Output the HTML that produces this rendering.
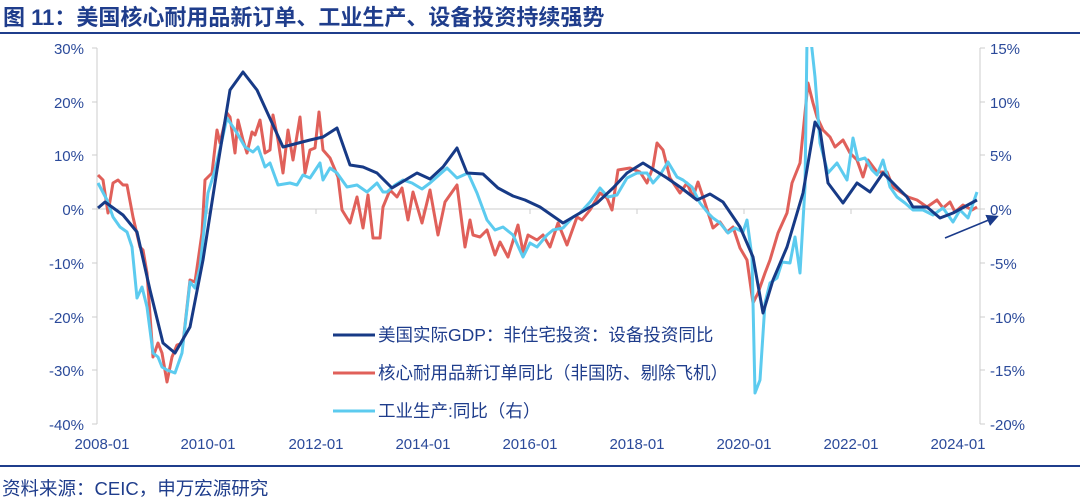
<!DOCTYPE html>
<html><head><meta charset="utf-8"><style>
body{margin:0;background:#fff;width:1080px;height:498px;overflow:hidden;font-family:"Liberation Sans","Noto Sans CJK SC",sans-serif;}
</style></head><body>
<svg width="1080" height="498" xmlns="http://www.w3.org/2000/svg" font-family="Liberation Sans, Noto Sans CJK SC, sans-serif">
<defs><clipPath id="c"><rect x="97" y="47" width="885" height="380"/></clipPath>
<marker id="ah" markerWidth="8" markerHeight="8" refX="6" refY="4" orient="auto"><path d="M0,0 L8,4 L0,8 z" fill="#1a3a8a"/></marker></defs>
<text x="3" y="25" font-size="22" font-weight="bold" fill="#1f3d8c">图 11：美国核心耐用品新订单、工业生产、设备投资持续强势</text>
<rect x="0" y="32" width="1080" height="2" fill="#1f3d8c"/>
<rect x="0" y="465" width="1080" height="2" fill="#1f3d8c"/>
<text x="2" y="495" font-size="18.5" fill="#1f3d8c">资料来源：CEIC，申万宏源研究</text>
<g stroke="#ccc" stroke-width="1" fill="none">
<line x1="97" y1="48" x2="97" y2="424"/><line x1="980" y1="48" x2="980" y2="424"/>
<line x1="97" y1="209" x2="980" y2="209"/>
<path d="M92,48H97M92,102H97M92,155H97M92,209H97M92,263H97M92,317H97M92,370H97M92,424H97M980,48H985M980,102H985M980,155H985M980,209H985M980,263H985M980,317H985M980,370H985M980,424H985M208,209V214M316,209V214M423,209V214M530,209V214M637,209V214M744,209V214M851,209V214M958,209V214"/>
</g>
<g font-size="15" fill="#2b4a9a" text-anchor="end">
<text x="84" y="54">30%</text><text x="84" y="108">20%</text><text x="84" y="161">10%</text><text x="84" y="215">0%</text><text x="84" y="269">-10%</text><text x="84" y="323">-20%</text><text x="84" y="376">-30%</text><text x="84" y="430">-40%</text>
</g>
<g font-size="15" fill="#2b4a9a">
<text x="990" y="54">15%</text><text x="990" y="108">10%</text><text x="990" y="161">5%</text><text x="990" y="215">0%</text><text x="990" y="269">-5%</text><text x="990" y="323">-10%</text><text x="990" y="376">-15%</text><text x="990" y="430">-20%</text>
</g>
<g font-size="15" fill="#2b4a9a" text-anchor="middle">
<text x="102" y="449">2008-01</text><text x="208" y="449">2010-01</text><text x="316" y="449">2012-01</text><text x="423" y="449">2014-01</text><text x="530" y="449">2016-01</text><text x="637" y="449">2018-01</text><text x="744" y="449">2020-01</text><text x="851" y="449">2022-01</text><text x="958" y="449">2024-01</text>
</g>
<g clip-path="url(#c)" fill="none" stroke-width="3" stroke-linejoin="round">
<polyline stroke="#e0605a" points="98,175 103,180 108,213 113,183 118,180 123,185 127,185 133,217 140,247 143,250 147,273 153,357 158,343 162,353 167,382 172,357 177,345 183,343 190,280 195,282 202,233 205,180 212,173 217,130 220,143 227,113 230,117 235,153 238,120 243,140 247,153 252,132 255,135 260,120 265,153 270,150 273,115 278,140 283,173 288,130 293,160 300,117 305,173 310,150 315,148 319,112 323,150 330,158 338,177 342,210 350,223 357,197 363,228 368,195 373,238 380,238 383,207 390,190 397,197 402,188 408,220 413,192 422,223 430,190 438,235 445,202 457,185 465,247 470,220 473,235 480,237 487,230 495,255 500,242 508,257 518,225 523,252 528,235 537,240 543,235 550,247 558,223 567,245 577,217 582,220 590,210 600,193 607,198 612,210 618,170 630,168 640,172 647,183 653,167 657,143 663,150 670,178 680,193 687,183 693,197 698,182 705,203 713,228 720,222 727,232 733,227 740,248 747,260 753,303 758,293 765,273 770,260 778,233 787,213 792,183 800,163 808,83 813,103 817,117 823,130 830,137 835,147 843,140 850,153 857,160 863,177 868,160 877,172 887,172 893,187 902,193 908,197 917,200 927,207 937,200 943,208 950,202 955,212 963,205 972,210 977,207"/>
<polyline stroke="#5ccbef" points="98,183 107,200 113,217 120,227 127,232 132,247 137,298 142,287 147,307 153,353 158,357 162,367 167,370 175,373 182,353 190,282 195,288 200,267 208,193 215,170 222,140 227,118 237,133 245,147 253,152 258,147 265,167 270,163 278,185 290,183 297,185 303,175 310,178 320,163 323,180 330,168 337,173 347,187 357,185 367,192 377,183 383,192 387,192 395,185 403,180 412,183 422,189 430,183 447,168 457,178 468,173 477,193 487,220 495,230 503,227 513,235 523,257 530,243 537,247 547,235 553,230 563,228 573,217 580,213 590,202 600,188 608,197 617,195 627,178 637,173 647,173 653,183 660,175 668,162 677,177 683,180 692,187 700,203 708,213 713,218 720,223 728,233 735,228 743,232 747,220 752,257 755,393 760,380 765,303 770,283 777,278 782,262 790,263 795,237 800,273 805,187 807,40 811,40 815,77 820,143 828,173 837,163 847,180 853,138 858,160 865,158 872,170 877,175 883,160 890,187 897,197 905,203 913,210 923,210 933,215 943,208 953,222 960,210 968,218 977,192"/>
<polyline stroke="#173a86" points="98,208 105,202 123,215 137,232 150,290 163,343 175,353 190,327 203,260 217,170 230,90 243,72 257,90 283,147 310,140 323,137 337,128 350,165 363,167 377,173 392,188 417,173 430,179 443,167 457,148 467,173 483,174 498,188 513,196 525,200 540,207 563,223 580,213 597,203 613,188 627,173 643,163 667,178 680,187 697,200 710,194 723,202 740,227 753,257 763,313 773,280 787,247 803,193 815,122 820,130 828,183 843,203 857,183 870,192 883,173 897,187 907,197 913,207 927,207 940,218 953,213 977,200"/>
</g>
<line x1="945" y1="238" x2="996" y2="217" stroke="#1a3a8a" stroke-width="1.5" marker-end="url(#ah)"/>
<g stroke-width="3">
<line x1="333" y1="335" x2="375" y2="335" stroke="#173a86"/>
<line x1="333" y1="373" x2="375" y2="373" stroke="#e0605a"/>
<line x1="333" y1="411" x2="375" y2="411" stroke="#5ccbef"/>
</g>
<g font-size="17.5" fill="#1f3d8c">
<text x="378" y="341">美国实际GDP：非住宅投资：设备投资同比</text>
<text x="378" y="379">核心耐用品新订单同比（非国防、剔除飞机）</text>
<text x="378" y="417">工业生产:同比（右）</text>
</g>
</svg>
</body></html>
